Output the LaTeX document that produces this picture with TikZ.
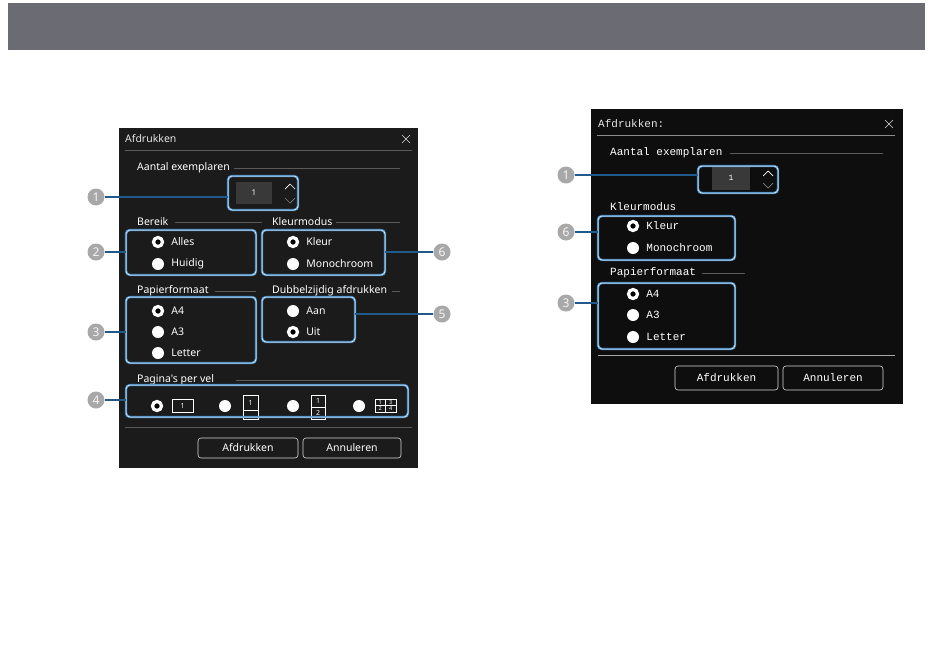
\documentclass[tikz,border=0pt]{standalone}
\usepackage{fontspec}
\newfontfamily\uifont{Noto Sans}
\newfontfamily\monofont{Liberation Mono}
\usetikzlibrary{positioning}

\definecolor{bandgray}{HTML}{6B6B73}
\definecolor{dlgleft}{HTML}{1B1B1B}
\definecolor{dlgright}{HTML}{0E0E0E}
\definecolor{hlblue}{HTML}{4A8CC4}
\definecolor{leadblue}{HTML}{1F5A8A}
\definecolor{callgray}{HTML}{A8A8A8}
\definecolor{grpgray}{HTML}{5A5A5A}

\tikzset{
  hlbox/.style={draw=hlblue, line width=2.4pt, rounded corners=4pt},
  hlinner/.style={draw=white, line width=0.5pt, rounded corners=4pt},
  lead/.style={draw=leadblue, line width=1.4pt},
  callout/.style={circle, fill=callgray, inner sep=0pt, minimum size=17pt,
    text=white!92!gray, font=\uifont\bfseries\fontsize{12}{12}\selectfont},
  radiooff/.style={circle, fill=white, inner sep=0pt, minimum size=12pt},
  radioon/.style={circle, draw=white, line width=3.2pt, fill=black, inner sep=0pt, minimum size=9pt},
  grpline/.style={draw=grpgray, line width=0.6pt},
  ltxt/.style={text=white, anchor=west, inner sep=0pt, font=\uifont\fontsize{10.5}{12}\selectfont},
  rtxt/.style={text=white, anchor=west, inner sep=0pt, font=\monofont\fontsize{11}{12}\selectfont},
  btn/.style={draw=white!85!black, rounded corners=3pt, line width=0.6pt},
  pageicon/.style={draw=white, line width=0.6pt},
  pnum/.style={text=white, inner sep=0pt, font=\uifont\fontsize{7}{7}\selectfont},
}

\begin{document}
\begin{tikzpicture}[x=1pt, y=-1pt]

    % Page frame and top band
    \useasboundingbox (0,0) rectangle (950,659);
    \fill[white] (0,0) rectangle (950,659);
    \fill[bandgray] (8,3) rectangle (925,50);

    % ---------------- Left dialog ----------------
    \fill[dlgleft] (119,128) rectangle (418,468);
    \node[ltxt, text=white!80!gray] (ltitle) at (125,139) {Afdrukken};
    \draw[white!70!gray, line width=0.6pt] (402,135) -- (410,143) (402,143) -- (410,135);
    \draw[grpline] (125,150) -- (412,150);

    % Aantal exemplaren
    \node[ltxt] (lcopies) at (137,168) {Aantal exemplaren};
    \draw[grpline] (lcopies.east) ++(4pt,0) -- (400,168);
    \fill[gray!45!black] (236,182) rectangle (272,204);
    \node[pnum, font=\uifont\fontsize{8}{8}\selectfont] (lnum) at (254,193) {1};
    \draw[white, line width=0.7pt] (285,189) -- (290,184) -- (295,189);
    \draw[gray, line width=0.7pt] (285,198) -- (290,203) -- (295,198);
    \draw[hlbox] (228,176) rectangle (298,210);
    \draw[hlinner] (228,176) rectangle (298,210);
    \coordinate (lspin) at (228,197);

    % Bereik and Kleurmodus
    \node[ltxt] (lrange) at (137,222) {Bereik};
    \draw[grpline] (175,222) -- (262,222);
    \node[ltxt] (lcolour) at (272,222) {Kleurmodus};
    \draw[grpline] (336,222) -- (400,222);
    \node[radioon] (ralles) at (158,242) {};
    \node[ltxt, right=7pt of ralles] {Alles};
    \node[radiooff] (rhuidig) at (158,264) {};
    \node[ltxt, right=7pt of rhuidig] {Huidig};
    \node[radioon] (rkleur) at (293,242) {};
    \node[ltxt, right=7pt of rkleur] {Kleur};
    \node[radiooff] (rmono) at (293,264) {};
    \node[ltxt, right=7pt of rmono] {Monochroom};
    \draw[hlbox] (126,230) rectangle (256,275);
    \draw[hlinner] (126,230) rectangle (256,275);
    \draw[hlbox] (262,230) rectangle (385,275);
    \draw[hlinner] (262,230) rectangle (385,275);
    \coordinate (lrangebox) at (126,252);
    \coordinate (lcolourbox) at (385,252);

    % Papierformaat and Dubbelzijdig afdrukken
    \node[ltxt] (lpaper) at (137,291) {Papierformaat};
    \draw[grpline] (215,291) -- (256,291);
    \node[ltxt] (lduplex) at (272,291) {Dubbelzijdig afdrukken};
    \draw[grpline] (392,291) -- (400,291);
    \node[radioon] (ra4) at (158,311) {};
    \node[ltxt, right=7pt of ra4] {A4};
    \node[radiooff] (ra3) at (158,332) {};
    \node[ltxt, right=7pt of ra3] {A3};
    \node[radiooff] (rletter) at (158,353) {};
    \node[ltxt, right=7pt of rletter] {Letter};
    \node[radiooff] (raan) at (293,311) {};
    \node[ltxt, right=7pt of raan] {Aan};
    \node[radioon] (ruit) at (293,332) {};
    \node[ltxt, right=7pt of ruit] {Uit};
    \draw[hlbox] (126,297) rectangle (256,363);
    \draw[hlinner] (126,297) rectangle (256,363);
    \draw[hlbox] (262,297) rectangle (355,342);
    \draw[hlinner] (262,297) rectangle (355,342);
    \coordinate (lpaperbox) at (126,332);
    \coordinate (lduplexbox) at (355,314);

    % Pagina's per vel
    \node[ltxt] (lpages) at (137,380) {Pagina's per vel};
    \draw[grpline] (236,380) -- (400,380);
    \node[radioon] (rp1) at (157,406) {};
    \node[radiooff] (rp2) at (225,406) {};
    \node[radiooff] (rp3) at (293,406) {};
    \node[radiooff] (rp4) at (359,406) {};
    % page icons
    \draw[pageicon] (172,399) rectangle (193,412);
    \node[pnum] at (182.5,405.5) {1};
    \draw[pageicon] (243,395) rectangle (258,419) (243,410) -- (258,410);
    \node[pnum] at (250.5,403) {1};
    \draw[pageicon] (311,395) rectangle (325,419) (311,407) -- (325,407);
    \node[pnum] at (318,401) {1};
    \node[pnum] at (318,413) {2};
    \draw[pageicon] (375,399) rectangle (396,412) (375,405.5) -- (396,405.5) (385.5,399) -- (385.5,412);
    \node[pnum, font=\uifont\fontsize{5.5}{5.5}\selectfont] at (380.2,402.3) {1};
    \node[pnum, font=\uifont\fontsize{5.5}{5.5}\selectfont] at (390.8,402.3) {3};
    \node[pnum, font=\uifont\fontsize{5.5}{5.5}\selectfont] at (380.2,408.8) {2};
    \node[pnum, font=\uifont\fontsize{5.5}{5.5}\selectfont] at (390.8,408.8) {4};
    \draw[hlbox] (126,385) rectangle (408,417);
    \draw[hlinner] (126,385) rectangle (408,417);
    \coordinate (lpagesbox) at (126,400);

    % buttons
    \draw[grpline] (125,427) -- (412,427);
    \draw[btn] (198,438) rectangle (298,458);
    \node[ltxt, anchor=center] (lprint) at (248,448) {Afdrukken};
    \draw[btn] (303,438) rectangle (401,458);
    \node[ltxt, anchor=center] (lcancel) at (352,448) {Annuleren};

    % callouts, left
    \node[callout] (c1l) at (96,197) {1};
    \node[callout] (c2l) at (96,252) {2};
    \node[callout] (c3l) at (96,332) {3};
    \node[callout] (c4l) at (96,400) {4};
    \node[callout] (c6l) at (442,252) {6};
    \node[callout] (c5l) at (442,314) {5};
    \draw[lead] (c1l) -- (lspin);
    \draw[lead] (c2l) -- (lrangebox);
    \draw[lead] (c3l) -- (lpaperbox);
    \draw[lead] (c4l) -- (lpagesbox);
    \draw[lead] (c6l) -- (lcolourbox);
    \draw[lead] (c5l) -- (lduplexbox);

    % ---------------- Right dialog ----------------
    \fill[dlgright] (591,109) rectangle (903,404);
    \node[rtxt, text=white!80!gray] (rtitle) at (598,124) {Afdrukken:};
    \draw[white!70!gray, line width=0.6pt] (885,120) -- (893,128) (885,128) -- (893,120);
    \draw[grpline, draw=white!55!black] (597,135) -- (895,135);

    \node[rtxt] (rcopies) at (610,153) {Aantal exemplaren};
    \draw[grpline] (730,153) -- (883,153);
    \fill[gray!45!black] (712,166) rectangle (750,190);
    \node[pnum, font=\monofont\fontsize{8}{8}\selectfont] (rnum) at (731,178) {1};
    \draw[white, line width=0.7pt] (763,176) -- (768,171) -- (773,176);
    \draw[gray, line width=0.7pt] (763,183) -- (768,188) -- (773,183);
    \draw[hlbox] (698,166) rectangle (778,193);
    \draw[hlinner] (698,166) rectangle (778,193);
    \coordinate (rspin) at (698,175);

    \node[rtxt] (rcolour) at (610,207) {Kleurmodus};
    \node[radioon] (rrkleur) at (633,226) {};
    \node[rtxt, right=7pt of rrkleur] {Kleur};
    \node[radiooff] (rrmono) at (633,248) {};
    \node[rtxt, right=7pt of rrmono] {Monochroom};
    \draw[hlbox] (598,216) rectangle (735,260);
    \draw[hlinner] (598,216) rectangle (735,260);
    \coordinate (rcolourbox) at (598,232);

    \node[rtxt] (rpaper) at (610,273) {Papierformaat};
    \draw[grpline] (702,273) -- (745,273);
    \node[radioon] (rra4) at (633,294) {};
    \node[rtxt, right=7pt of rra4] {A4};
    \node[radiooff] (rra3) at (633,315) {};
    \node[rtxt, right=7pt of rra3] {A3};
    \node[radiooff] (rrletter) at (633,337) {};
    \node[rtxt, right=7pt of rrletter] {Letter};
    \draw[hlbox] (598,283) rectangle (735,349);
    \draw[hlinner] (598,283) rectangle (735,349);
    \coordinate (rpaperbox) at (598,303);

    \draw[grpline, draw=white!65!black] (598,355) -- (895,355);
    \draw[btn] (675,366) rectangle (778,390);
    \node[rtxt, anchor=center] (rprint) at (726.5,378) {Afdrukken};
    \draw[btn] (783,366) rectangle (883,390);
    \node[rtxt, anchor=center] (rcancel) at (833,378) {Annuleren};

    % callouts, right
    \node[callout] (c1r) at (566,175) {1};
    \node[callout] (c6r) at (566,232) {6};
    \node[callout] (c3r) at (566,303) {3};
    \draw[lead] (c1r) -- (rspin);
    \draw[lead] (c6r) -- (rcolourbox);
    \draw[lead] (c3r) -- (rpaperbox);

\end{tikzpicture}
\end{document}
